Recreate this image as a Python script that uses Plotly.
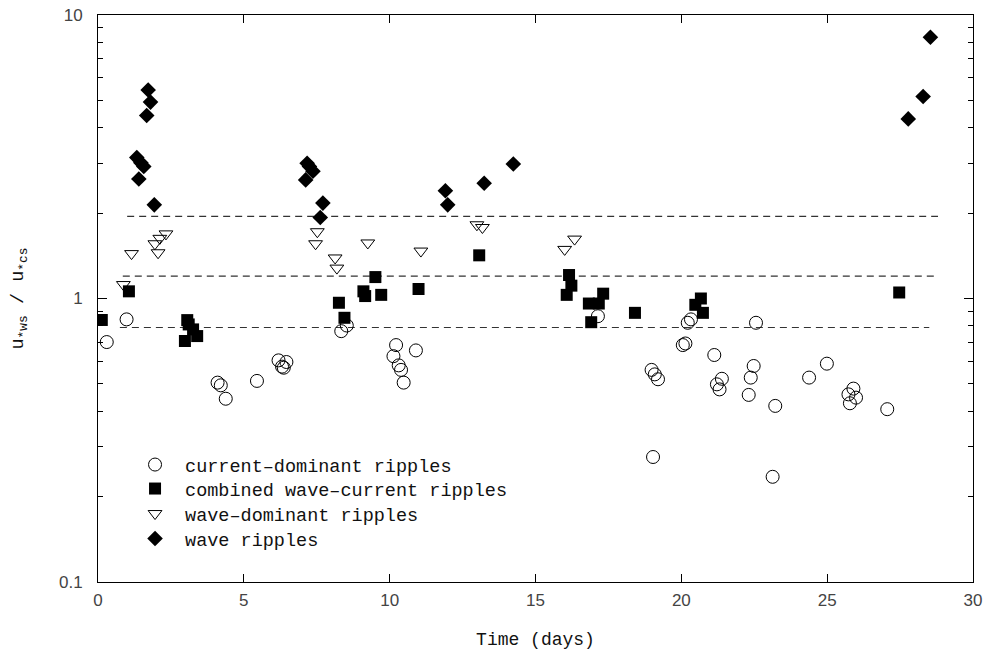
import plotly.graph_objects as go

# ---- data ----
cd_x = [0.30, 0.98, 4.10, 4.21, 4.38, 5.45, 6.19, 6.31, 6.46, 6.37, 8.34, 8.53, 10.22, 10.13, 10.31,
        10.39, 10.48, 10.90, 17.14, 20.22, 20.33, 20.05, 20.14, 22.56, 21.13, 18.98, 19.09, 19.20,
        21.39, 21.22, 21.31, 22.48, 22.38, 22.31, 23.22, 24.38, 24.99, 25.90, 25.73, 25.99, 25.78,
        19.03, 23.13, 27.06]
cd_y = [0.702, 0.844, 0.505, 0.494, 0.443, 0.512, 0.605, 0.575, 0.597, 0.57, 0.767, 0.803, 0.685,
        0.626, 0.581, 0.56, 0.505, 0.656, 0.866, 0.821, 0.844, 0.685, 0.694, 0.821, 0.632, 0.56,
        0.54, 0.519, 0.521, 0.498, 0.478, 0.578, 0.526, 0.457, 0.418, 0.526, 0.589, 0.481, 0.459,
        0.447, 0.427, 0.276, 0.235, 0.407]

cw_x = [0.13, 1.06, 3.06, 3.11, 3.26, 3.40, 2.98, 8.26, 8.45, 9.10, 9.16, 9.51, 9.71, 10.99, 13.07,
        16.15, 16.23, 16.07, 16.83, 17.17, 17.32, 16.91, 18.41, 20.67, 20.74, 20.48, 27.47]
cw_y = [0.84, 1.06, 0.839, 0.81, 0.778, 0.737, 0.708, 0.966, 0.855, 1.06, 1.02, 1.19, 1.03, 1.08,
        1.42, 1.21, 1.11, 1.03, 0.96, 0.96, 1.04, 0.825, 0.89, 1.0, 0.89, 0.95, 1.05]

wd_x = [0.87, 1.15, 1.95, 2.06, 2.12, 2.33, 7.46, 7.52, 8.13, 8.19, 9.25, 11.07, 12.99, 13.18, 16.00, 16.34]
wd_y = [1.12, 1.44, 1.56, 1.45, 1.63, 1.69, 1.56, 1.72, 1.39, 1.28, 1.57, 1.47, 1.82, 1.78, 1.49, 1.62]

wr_x = [1.72, 1.80, 1.67, 1.33, 1.47, 1.57, 1.40, 1.93, 7.17, 7.25, 7.37, 7.12, 7.71, 7.62, 11.91,
        11.99, 13.24, 14.24, 27.78, 28.29, 28.54]
wr_y = [5.44, 4.93, 4.42, 3.14, 3.01, 2.92, 2.64, 2.14, 3.0, 2.92, 2.81, 2.62, 2.17, 1.93, 2.40,
        2.14, 2.55, 2.98, 4.30, 5.16, 8.35]

# dashed reference levels: (level, x_start, x_end)
ref_levels = [1.95, 1.2, 0.79]
ref_x0 = [1.0, 0.85, 0.75]
ref_x1 = [28.8, 28.7, 28.5]

x_ticks = [0, 5, 10, 15, 20, 25, 30]
y_ticks = [0.1, 1, 10]
y_ticktext = ["0.1", "1", "10"]

names = ["current\u2013dominant ripples", "combined wave\u2013current ripples",
         "wave\u2013dominant ripples", "wave ripples"]

fig = go.Figure()

for lvl, a, b in zip(ref_levels, ref_x0, ref_x1):
    fig.add_trace(go.Scatter(x=[a, b], y=[lvl, lvl], mode="lines", showlegend=False,
                             hoverinfo="skip",
                             line=dict(color="#333333", width=1.2, dash="7px,5px")))

fig.add_trace(go.Scatter(x=cd_x, y=cd_y, mode="markers", name=names[0], legend="legend",
                         marker=dict(symbol="circle-open", size=13, color="black",
                                     line=dict(color="black", width=1))))
fig.add_trace(go.Scatter(x=cw_x, y=cw_y, mode="markers", name=names[1], legend="legend2",
                         marker=dict(symbol="square", size=12, color="black",
                                     line=dict(width=0))))
fig.add_trace(go.Scatter(x=wd_x, y=wd_y, mode="markers", name=names[2], legend="legend3",
                         marker=dict(symbol="triangle-down-open", size=12, color="black",
                                     line=dict(color="black", width=1))))
fig.add_trace(go.Scatter(x=wr_x, y=wr_y, mode="markers", name=names[3], legend="legend4",
                         marker=dict(symbol="diamond", size=12, color="black",
                                     line=dict(width=0))))

mono = "Liberation Mono"
sans = "Liberation Sans"

def leg(ypos):
    return dict(x=0.0309, y=ypos, xanchor="left", yanchor="middle",
                font=dict(family=mono, size=18.5, color="#111"),
                bgcolor="rgba(0,0,0,0)", itemwidth=50)

fig.update_layout(
    width=985, height=652,
    margin=dict(l=98, r=12, t=15, b=70, autoexpand=False),
    paper_bgcolor="white", plot_bgcolor="white",
    showlegend=True,
    legend=leg(0.2063),
    legend2=leg(0.1640),
    legend3=leg(0.1199),
    legend4=leg(0.0758),
    xaxis=dict(range=[0, 30], tickvals=x_ticks, automargin=False,
               ticks="inside", ticklen=8, tickcolor="black",
               showline=True, linecolor="black", linewidth=1, mirror="ticks",
               showgrid=False, zeroline=False, ticklabelstandoff=3,
               tickfont=dict(family=sans, size=17, color="#444"),
               title=dict(text="Time (days)", font=dict(family=mono, size=18, color="#111"),
                          standoff=22)),
    yaxis=dict(type="log", range=[-1, 1], tickvals=y_ticks, ticktext=y_ticktext,
               automargin=False,
               ticks="inside", ticklen=9, tickcolor="black",
               showline=True, linecolor="black", linewidth=1, mirror="ticks",
               showgrid=False, zeroline=False, ticklabelstandoff=11,
               minor=dict(ticks="inside", ticklen=5, tickcolor="black", showgrid=False, dtick="D1"),
               tickfont=dict(family=sans, size=17, color="#444"),
               title=dict(text="u<sub>*ws</sub> / u<sub>*cs</sub>",
                          font=dict(family=mono, size=18.5, color="#111"), standoff=30)),
)

fig.write_html("out.html")
